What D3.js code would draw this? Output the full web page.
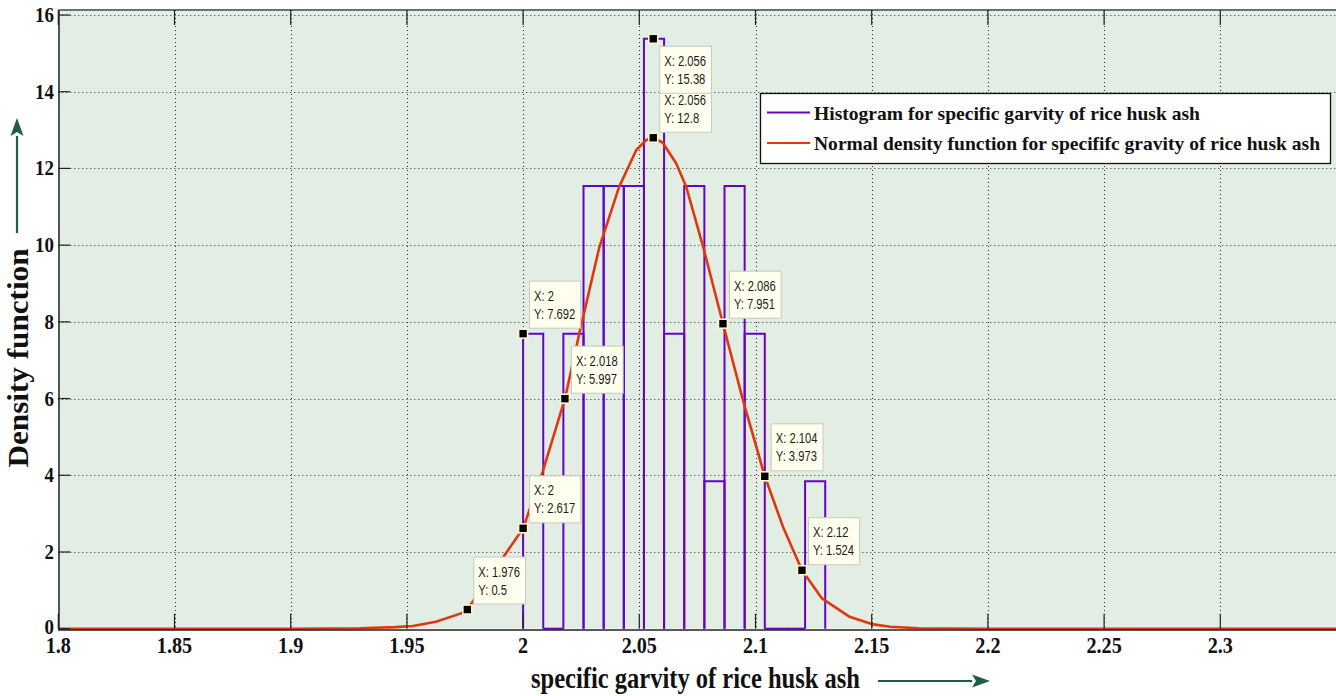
<!DOCTYPE html>
<html><head><meta charset="utf-8">
<script src="https://cdn.jsdelivr.net/npm/d3@7"></script>
<style>html,body{margin:0;padding:0;background:#fff;overflow:hidden}</style>
</head><body>
<svg id="c" width="1336" height="696"></svg>
<script>
// ---- data ----
const xTicks = [1.8, 1.85, 1.9, 1.95, 2, 2.05, 2.1, 2.15, 2.2, 2.25, 2.3];
const xTickLabels = ["1.8","1.85","1.9","1.95","2","2.05","2.1","2.15","2.2","2.25","2.3"];
const yTicks = [0, 2, 4, 6, 8, 10, 12, 14, 16];
const yTickLabels = ["0","2","4","6","8","10","12","14","16"];
const binStart = 2.0, binEnd = 2.13;
const binHeights = [7.692, 0, 7.692, 11.54, 11.54, 11.54, 15.38, 7.692, 11.54, 3.846, 11.54, 7.692, 0, 0, 3.846];
const curveX = [1.8, 1.9, 1.93, 1.945, 1.9525, 1.9625, 1.9733, 1.976, 2.0, 2.0084, 2.018, 2.0242, 2.0327, 2.0413, 2.0487, 2.053, 2.056, 2.0601, 2.0659, 2.0702, 2.0776, 2.086, 2.0946, 2.104, 2.1118, 2.12, 2.1286, 2.1405, 2.15, 2.158, 2.17, 2.2, 2.35];
const curveY = [0, 0, 0.01, 0.04, 0.07, 0.18, 0.4, 0.5, 2.617, 4.09, 5.997, 7.70, 9.92, 11.52, 12.48, 12.74, 12.8, 12.67, 12.13, 11.52, 9.93, 7.951, 5.96, 3.973, 2.66, 1.524, 0.79, 0.31, 0.12, 0.05, 0.01, 0, 0];
const tipX = [2.056, 2.056, 2, 2.018, 2, 1.976, 2.086, 2.104, 2.12];
const tipY = [12.8, 15.38, 7.692, 5.997, 2.617, 0.5, 7.951, 3.973, 1.524];
const tipXText = ["2.056", "2.056", "2", "2.018", "2", "1.976", "2.086", "2.104", "2.12"];
const tipYText = ["12.8", "15.38", "7.692", "5.997", "2.617", "0.5", "7.951", "3.973", "1.524"];
const legendLabels = ["Histogram for specific garvity of rice husk ash", "Normal density function for specififc gravity of rice husk ash"];
const xLabel = "specific garvity of rice husk ash";
const yLabel = "Density function";

// ---- drawing ----
(function () {
const PURPLE = "#6404c8", RED = "#e2360e", GREEN = "#1e5c46";
const SERIF = "'Liberation Serif','Times New Roman',serif";
const SANS = "'Liberation Sans',Arial,sans-serif";
const svg = d3.select("#c");
const x = d3.scaleLinear().domain([1.8, 2.35]).range([58.3, 1336.5]);
const y = d3.scaleLinear().domain([0, 16]).range([628.7, 15]);
const pL = x(1.8), pR = 1336, pT = 10, pB = y(0);

function squeeze(sel, k) {
  sel.each(function () {
    const len = this.getComputedTextLength();
    d3.select(this).attr("textLength", len * k).attr("lengthAdjust", "spacingAndGlyphs");
  });
}
function fitTo(sel, w) {
  sel.attr("textLength", w).attr("lengthAdjust", "spacingAndGlyphs");
}

// plot background
svg.append("rect").attr("x", pL).attr("y", pT).attr("width", pR - pL).attr("height", pB - pT).attr("fill", "#e2ede3");

// grid
const grid = svg.append("g").attr("stroke", "#2a2a2a").attr("stroke-width", 1).attr("stroke-dasharray", "1,3");
grid.selectAll(".gx").data(xTicks.slice(1)).join("line")
  .attr("x1", d => Math.round(x(d)) + 0.5).attr("x2", d => Math.round(x(d)) + 0.5)
  .attr("y1", pT).attr("y2", pB);
grid.selectAll(".gy").data(yTicks.slice(1)).join("line")
  .attr("x1", pL).attr("x2", pR)
  .attr("y1", d => Math.round(y(d)) + 0.5).attr("y2", d => Math.round(y(d)) + 0.5);

// histogram bars (outlines)
const bw = (binEnd - binStart) / binHeights.length;
svg.append("g").selectAll("path").data(binHeights).join("path")
  .attr("d", (h, i) => {
    const x0 = x(binStart + i * bw), x1 = x(binStart + (i + 1) * bw);
    return `M${x0},${y(0)}V${y(h)}H${x1}V${y(0)}`;
  })
  .attr("fill", "none").attr("stroke", PURPLE).attr("stroke-width", 2);

// normal density curve
const pts = curveX.map((v, i) => [v, curveY[i]]);
svg.append("path").datum(pts)
  .attr("d", d3.line().x(d => x(d[0])).y(d => y(d[1])).curve(d3.curveLinear))
  .attr("fill", "none").attr("stroke", RED).attr("stroke-width", 2.6).attr("stroke-linejoin", "round");

// axes lines and ticks
const ax = svg.append("g").attr("stroke", "#222");
ax.append("line").attr("x1", pL + 0.7).attr("x2", pL + 0.7).attr("y1", pT).attr("y2", pB + 1.5).attr("stroke-width", 1.5);
ax.append("line").attr("x1", pL).attr("x2", pR).attr("y1", pB + 1.3).attr("y2", pB + 1.3).attr("stroke-width", 1.5);
ax.append("line").attr("x1", pL).attr("x2", pR).attr("y1", pT).attr("y2", pT).attr("stroke-width", 1.5).attr("stroke", "#444");
ax.selectAll(".ty").data(yTicks).join("line")
  .attr("x1", pL).attr("x2", pL + 12).attr("y1", d => y(d)).attr("y2", d => y(d)).attr("stroke-width", 1.2);
ax.selectAll(".tb").data(xTicks).join("line")
  .attr("x1", d => x(d)).attr("x2", d => x(d)).attr("y1", pB).attr("y2", pB - 15).attr("stroke-width", 1.2);
ax.selectAll(".tt").data(xTicks).join("line")
  .attr("x1", d => x(d)).attr("x2", d => x(d)).attr("y1", pT).attr("y2", pT + 15).attr("stroke-width", 1.2);

// tick labels
svg.append("g").selectAll("text").data(yTicks).join("text")
  .attr("x", 54).attr("y", d => y(d) + 7 - (d === 0 ? 2 : 0)).attr("text-anchor", "end")
  .attr("font-family", SERIF).attr("font-weight", "bold").attr("font-size", 21).attr("fill", "#111")
  .text((d, i) => yTickLabels[i]).call(squeeze, 0.9);
svg.append("g").selectAll("text").data(xTicks).join("text")
  .attr("x", d => x(d)).attr("y", 653).attr("text-anchor", "middle")
  .attr("font-family", SERIF).attr("font-weight", "bold").attr("font-size", 24).attr("fill", "#111")
  .text((d, i) => xTickLabels[i]).call(squeeze, 0.84);

// axis labels
svg.append("text").attr("x", 531).attr("y", 688)
  .attr("font-family", SERIF).attr("font-weight", "bold").attr("font-size", 29).attr("fill", "#111")
  .text(xLabel).call(fitTo, 329);
svg.append("text").attr("transform", "translate(28,358) rotate(-90)").attr("text-anchor", "middle")
  .attr("font-family", SERIF).attr("font-weight", "bold").attr("font-size", 30).attr("fill", "#111")
  .text(yLabel).call(fitTo, 219);

// arrows
function arrow(x1, y1, x2, y2) {
  const g = svg.append("g").attr("fill", GREEN).attr("stroke", GREEN);
  const a = Math.atan2(y2 - y1, x2 - x1), L = 18, W = 6.5;
  const bx = x2 - L * Math.cos(a), by = y2 - L * Math.sin(a);
  g.append("line").attr("x1", x1).attr("y1", y1).attr("x2", bx).attr("y2", by).attr("stroke-width", 2.2);
  g.append("path").attr("stroke", "none").attr("d",
    `M${x2},${y2}L${bx + W * Math.sin(a)},${by - W * Math.cos(a)}L${bx + 4 * Math.cos(a)},${by + 4 * Math.sin(a)}L${bx - W * Math.sin(a)},${by + W * Math.cos(a)}Z`);
}
arrow(17, 233, 17, 118);
arrow(878, 681, 990, 681);

// data tips
const tipsG = svg.append("g");
tipX.forEach((tx, i) => {
  const mx = x(tx), my = y(tipY[i]);
  const g = tipsG.append("g");
  const box = g.append("rect").attr("fill", "#ffffee").attr("stroke", "#c9c9c2").attr("stroke-width", 1);
  const t1 = g.append("text").attr("font-family", SANS).attr("font-size", 14).attr("fill", "#1c1c1c").text("X: " + tipXText[i]);
  const t2 = g.append("text").attr("font-family", SANS).attr("font-size", 14).attr("fill", "#1c1c1c").text("Y: " + tipYText[i]);
  t1.call(squeeze, 0.8); t2.call(squeeze, 0.8);
  const w = Math.max(+t1.attr("textLength"), +t2.attr("textLength")) + 10, h = 47;
  const bx = mx + 6, byTop = (tipYText[i] === "15.38") ? my + 7 : my - 6 - h;
  box.attr("x", bx + 0.5).attr("y", byTop + 0.5).attr("width", w).attr("height", h);
  t1.attr("x", bx + 5).attr("y", byTop + 20);
  t2.attr("x", bx + 5).attr("y", byTop + 38);
  svg.append("rect").attr("x", mx - 4.5).attr("y", my - 4.5).attr("width", 9).attr("height", 9)
    .attr("fill", "#000").attr("stroke", "#fff8c8").attr("stroke-width", 1.6);
});

// legend
const lg = svg.append("g");
lg.append("rect").attr("x", 760.5).attr("y", 93.5).attr("width", 570).attr("height", 70)
  .attr("fill", "#fff").attr("stroke", "#111").attr("stroke-width", 1.3);
const legColors = [PURPLE, RED];
const legWidths = [386, 506];
legendLabels.forEach((lab, i) => {
  const yy = 112.5 + i * 30.5;
  lg.append("line").attr("x1", 767).attr("x2", 810).attr("y1", yy).attr("y2", yy)
    .attr("stroke", legColors[i]).attr("stroke-width", 2);
  lg.append("text").attr("x", 814).attr("y", yy + 7)
    .attr("font-family", SERIF).attr("font-weight", "bold").attr("font-size", 19.5).attr("fill", "#111")
    .text(lab).call(fitTo, legWidths[i]);
});
})();
</script>
</body></html>
